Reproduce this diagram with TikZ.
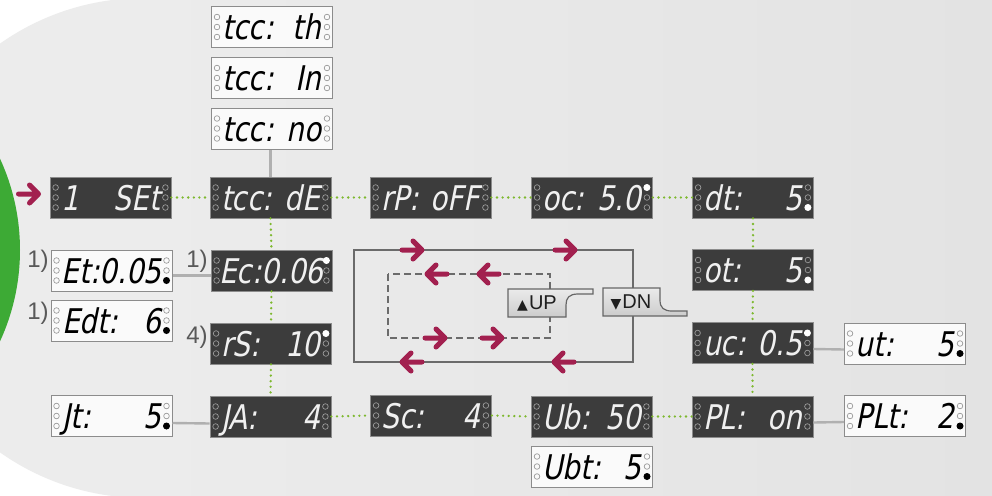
\documentclass[tikz,border=0pt]{standalone}
\usepackage{fontspec}
\setmainfont{Liberation Sans}
\newfontfamily\segfont[FakeStretch=0.82,FakeSlant=0.2]{DejaVu Sans}
\newfontfamily\symfont{DejaVu Sans}
\usetikzlibrary{calc}
\definecolor{bgA}{HTML}{ECECEC}
\definecolor{bgB}{HTML}{E3E3E3}
\definecolor{dispdark}{HTML}{3C3C3C}
\definecolor{crim}{HTML}{A2204F}
\definecolor{dotgreen}{HTML}{7DB82E}
\definecolor{connG}{HTML}{B0B0B0}
\definecolor{leafgreen}{HTML}{3DAA35}
\newcommand{\dd}[2]{\makebox[99pt]{#1\hfill#2}}
\begin{document}
\begin{tikzpicture}[x=1pt,y=-1pt,
  dispD/.style={draw=black!45, line width=0.8pt, fill=dispdark, text=white!94!black,
    minimum width=121pt, minimum height=41pt, inner sep=0pt,
    font=\segfont\fontsize{34}{34}\selectfont, text height=25pt, text depth=0pt},
  dispL/.style={dispD, fill=white!96!gray, draw=black!45, text=black, line width=1pt},
  ring/.style={draw=gray!80, line width=0.7pt},
  gdot/.style={dotgreen, line width=2.6pt, line cap=round, dash pattern=on 0pt off 5.6pt},
  gline/.style={connG, line width=2.4pt},
  frameline/.style={draw=black!58, line width=2pt},
  dframe/.style={draw=black!58, line width=2pt, dash pattern=on 7pt off 4pt},
  btn/.style={draw=black!60, line width=1.2pt, top color=black!8, bottom color=black!20},
  note/.style={font=\fontsize{24}{24}\selectfont, text=black!65, inner sep=0pt},
  btntext/.style={font=\fontsize{20}{20}\selectfont, text=black!88, inner sep=0pt},
  rarr/.pic={\draw[crim, line width=5pt, line cap=round, line join=round] (-10,0) -- (10,0) (1,-9) -- (10,0) -- (1,9);},
  larr/.pic={\draw[crim, line width=5pt, line cap=round, line join=round] (10,0) -- (-10,0) (-1,-9) -- (-10,0) -- (-1,9);}
]
\useasboundingbox (0,0) rectangle (992,495);
% background
\fill[white] (0,0) rectangle (992,495);
\fill[bgA] (144,248) circle (250pt);
\shade[left color=bgA, right color=bgB] (144,0) rectangle (992,495);
\fill[leafgreen] (-198,250) circle (218pt);

% top column
\node[dispL] (tccth) at (272,27) {\dd{tcc:}{th}};
\node[dispL] (tccin) at (272,78) {\dd{tcc:}{In}};
\node[dispL] (tccno) at (272,128.5) {\dd{tcc:}{no}};

% row 1
\node[dispD] (set) at (110.5,197.5) {\dd{1}{SEt}};
\node[dispD] (tccde) at (270.5,197.5) {\dd{tcc:}{dE}};
\node[dispD] (rpoff) at (430.5,197.5) {\dd{rP:}{oFF}};
\node[dispD] (oc) at (592,197.5) {\dd{oc:}{5.0}};
\node[dispD] (dt) at (753,197.5) {\dd{dt:}{5}};

% left column
\node[dispL] (et) at (111.5,270.5) {\dd{Et:}{0.05}};
\node[dispD] (ec) at (271.5,270.5) {\dd{Ec:}{0.06}};
\node[dispL] (edt) at (111.5,320.5) {\dd{Edt:}{6}};
\node[dispD] (rs) at (271,343.5) {\dd{rS:}{10}};

% right column
\node[dispD] (ot) at (753,270) {\dd{ot:}{5}};
\node[dispD] (uc) at (752.5,343) {\dd{uc:}{0.5}};
\node[dispL] (ut) at (905,343.5) {\dd{ut:}{5}};

% bottom row
\node[dispL] (jt) at (111.5,416) {\dd{Jt:}{5}};
\node[dispD] (ja) at (270.5,416.5) {\dd{JA:}{4}};
\node[dispD] (sc) at (431,415.5) {\dd{Sc:}{4}};
\node[dispD] (ub) at (591.5,416.5) {\dd{Ub:}{50}};
\node[dispL] (ubt) at (592,466.5) {\dd{Ubt:}{5}};
\node[dispD] (pl) at (752.5,416.5) {\dd{PL:}{on}};
\node[dispL] (plt) at (905,416) {\dd{PLt:}{2}};

% indicator rings
\foreach \n in {tccth,tccin,tccno,set,tccde,rpoff,oc,dt,et,ec,edt,rs,ot,uc,ut,jt,ja,sc,ub,ubt,pl,plt}{
  \foreach \dy in {-10,0,10}{
    \draw[ring] ($(\n.west)+(6,\dy)$) circle (2.8pt);
    \draw[ring] ($(\n.east)+(-6,\dy)$) circle (2.8pt);
  }
}
% filled indicator dots
\foreach \n in {oc,uc,rs,ec}{\fill[white] ($(\n.east)+(-6,-10)$) circle (3.5pt);}
\foreach \n in {dt,ot}{\fill[white] ($(\n.east)+(-6,10)$) circle (3.5pt);}
\foreach \n in {et,edt,jt,ut,ubt,plt}{\fill[black] ($(\n.east)+(-6,10)$) circle (3.5pt);}

% notes
\node[note] (n1) at (38,261) {1)};
\node[note] (n2) at (197,261) {1)};
\node[note] (n3) at (38,313) {1)};
\node[note] (n4) at (197,337) {4)};

% green dotted connectors
\draw[gdot] (set.east) -- (tccde.west);
\draw[gdot] (tccde.east) -- (rpoff.west);
\draw[gdot] (rpoff.east) -- (oc.west);
\draw[gdot] (oc.east) -- (dt.west);
\draw[gdot] (tccde.south) -- (ec.north);
\draw[gdot] (ec.south) -- (rs.north);
\draw[gdot] (rs.south) -- (ja.north);
\draw[gdot] (dt.south) -- (ot.north);
\draw[gdot] (ot.south) -- (uc.north);
\draw[gdot] (uc.south) -- (pl.north);
\draw[gdot] (ja.east) -- (sc.west);
\draw[gdot] (sc.east) -- (ub.west);
\draw[gdot] (ub.east) -- (pl.west);

% grey connectors
\draw[gline] (tccde.north) -- (tccde.north |- tccno.south);
\draw[gline] ([yshift=-5pt]et.east) -- ([yshift=-5pt]ec.west);
\draw[gline] ([yshift=-7pt]jt.east) -- ([yshift=-7pt]ja.west);
\draw[gline] ([yshift=-6pt]uc.east) -- ([yshift=-6pt]ut.west);
\draw[gline] ([yshift=-6pt]pl.east) -- ([yshift=-6pt]plt.west);

% entry arrow
\pic at (28.5,194) {rarr};

% centre diagram
\draw[frameline] (354,250) rectangle (633,362);
\draw[dframe] (388,274) rectangle (550,338);
\pic at (412,250) {rarr};
\pic at (565,250) {rarr};
\pic at (412,362) {larr};
\pic at (564,362) {larr};
\pic at (437,274) {larr};
\pic at (489,274) {larr};
\pic at (435,338) {rarr};
\pic at (492,338) {rarr};

% buttons
\path[btn] (508,289) -- (593,289) -- (593,294) -- (578,294) .. controls (569,294) and (566,298) .. (566,305) -- (566,317) -- (508,317) -- cycle;
\node[btntext] (upl) at (537,303) {{\symfont\fontsize{14}{14}\selectfont ▲}\kern1pt UP};
\path[btn] (603,288) -- (660,288) -- (660,300) .. controls (660,308) and (664,311) .. (672,311) -- (687,311) -- (687,316) -- (603,316) -- cycle;
\node[btntext] (dnl) at (631,302.5) {{\symfont\fontsize{14}{14}\selectfont ▼}\kern1pt DN};
\end{tikzpicture}
\end{document}
